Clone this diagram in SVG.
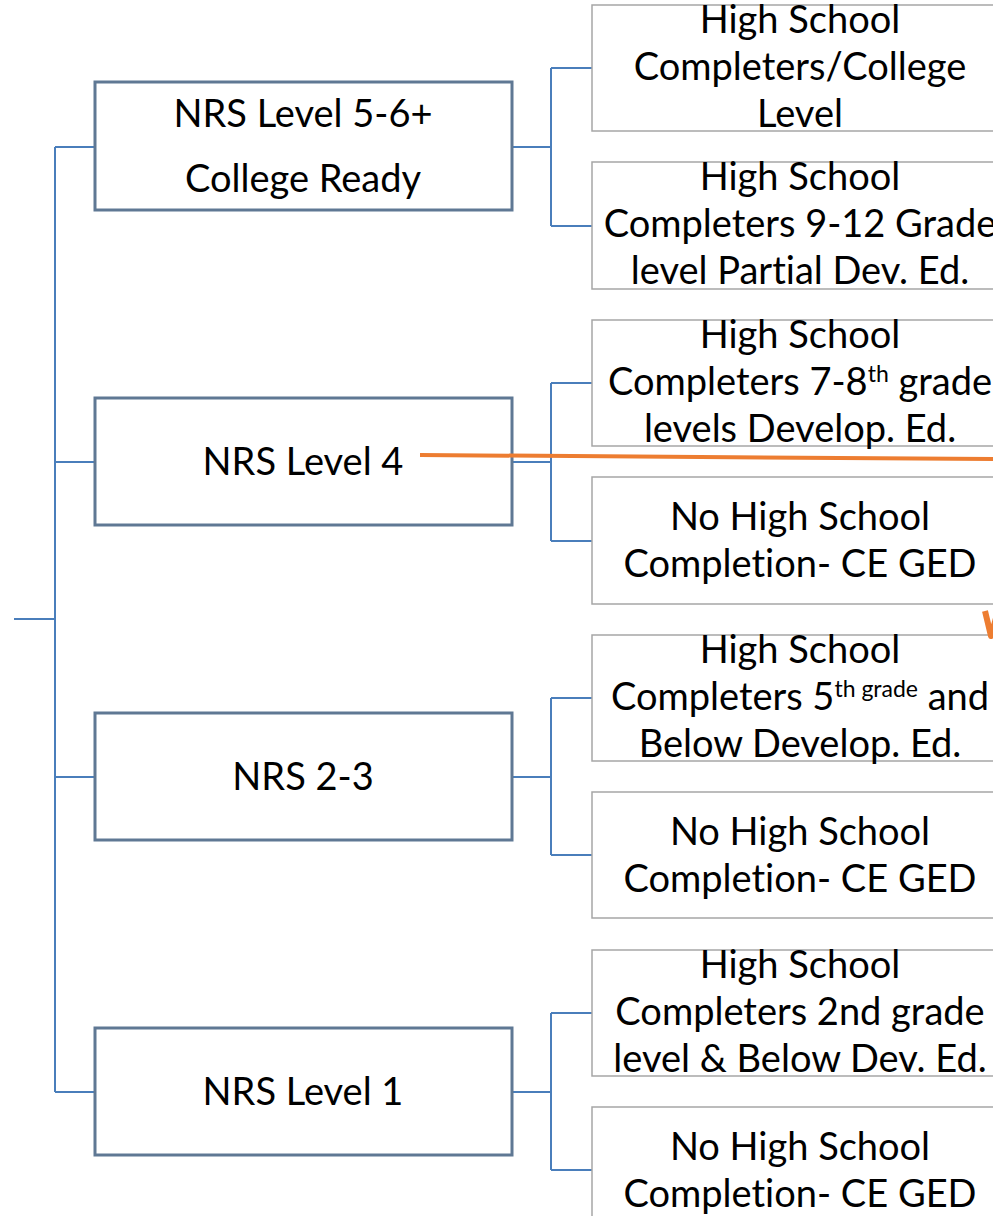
<svg xmlns="http://www.w3.org/2000/svg" width="993" height="1216" viewBox="0 0 993 1216">
<style>
.lb{fill:#fff;stroke:#5f7894;stroke-width:3}
.rb{fill:#fff;stroke:#a6a6a6;stroke-width:1.5}
.t{font-family:Lato,"Liberation Sans",sans-serif;font-size:38px;fill:#000;text-anchor:middle;font-variant-ligatures:none}
.c{fill:none;stroke:#4a7ebb;stroke-width:2}
.sup{font-size:23px}
</style>
<rect width="993" height="1216" fill="#fff"/>
<g id="connectors">
<path class="c" d="M14,619H55M55,147V1092M55,147H95M55,462H95M55,777H95M55,1092H95"/>
<path class="c" d="M512,147H551M551,68V226M551,68H592M551,226H592"/>
<path class="c" d="M512,462H551M551,383V541M551,383H592M551,541H592"/>
<path class="c" d="M512,777H551M551,698V855M551,698H592M551,855H592"/>
<path class="c" d="M512,1092H551M551,1013V1170M551,1013H592M551,1170H592"/>
</g>
<g id="n1"><rect class="lb" x="95" y="82" width="417" height="128"/><text class="t" x="303" y="127">NRS Level 5-6+</text><text class="t" x="303" y="192">College Ready</text></g>
<g id="n2"><rect class="lb" x="95" y="398" width="417" height="127"/><text class="t" x="303" y="475">NRS Level 4</text></g>
<g id="n3"><rect class="lb" x="95" y="713" width="417" height="127"/><text class="t" x="303" y="790">NRS 2-3</text></g>
<g id="n4"><rect class="lb" x="95" y="1028" width="417" height="127"/><text class="t" x="303" y="1105">NRS Level 1</text></g>
<g id="a"><rect class="rb" x="592" y="5" width="420" height="126"/><text class="t" x="800" y="33">High School</text><text class="t" x="800" y="80">Completers/College</text><text class="t" x="800" y="127">Level</text></g>
<g id="b"><rect class="rb" x="592" y="162" width="420" height="127"/><text class="t" x="800" y="190">High School</text><text class="t" x="800" y="237">Completers 9-12 Grade</text><text class="t" x="800" y="284">level Partial Dev. Ed.</text></g>
<g id="c"><rect class="rb" x="592" y="320" width="420" height="126"/><text class="t" x="800" y="348">High School</text><text class="t" x="800" y="395">Completers 7-8<tspan class="sup" dy="-13">th</tspan><tspan dy="13"> grade</tspan></text><text class="t" x="800" y="442">levels Develop. Ed.</text></g>
<g id="d"><rect class="rb" x="592" y="477" width="420" height="127"/><text class="t" x="800" y="530">No High School</text><text class="t" x="800" y="577">Completion- CE GED</text></g>
<g id="e"><rect class="rb" x="592" y="635" width="420" height="126"/><text class="t" x="800" y="663">High School</text><text class="t" x="800" y="710">Completers 5<tspan class="sup" dy="-13">th grade</tspan><tspan dy="13"> and</tspan></text><text class="t" x="800" y="757">Below Develop. Ed.</text></g>
<g id="f"><rect class="rb" x="592" y="792" width="420" height="126"/><text class="t" x="800" y="845">No High School</text><text class="t" x="800" y="892">Completion- CE GED</text></g>
<g id="g"><rect class="rb" x="592" y="950" width="420" height="126"/><text class="t" x="800" y="978">High School</text><text class="t" x="800" y="1025">Completers 2nd grade</text><text class="t" x="800" y="1072">level &amp; Below Dev. Ed.</text></g>
<g id="h"><rect class="rb" x="592" y="1107" width="420" height="126"/><text class="t" x="800" y="1160">No High School</text><text class="t" x="800" y="1207">Completion- CE GED</text></g>
<g id="annot" fill="none" stroke="#ed7d31" stroke-width="4">
<path d="M420,455L993,459"/>
<path d="M985,611L991,636L998,611" stroke-width="6" stroke-linejoin="round"/>
</g>
</svg>
